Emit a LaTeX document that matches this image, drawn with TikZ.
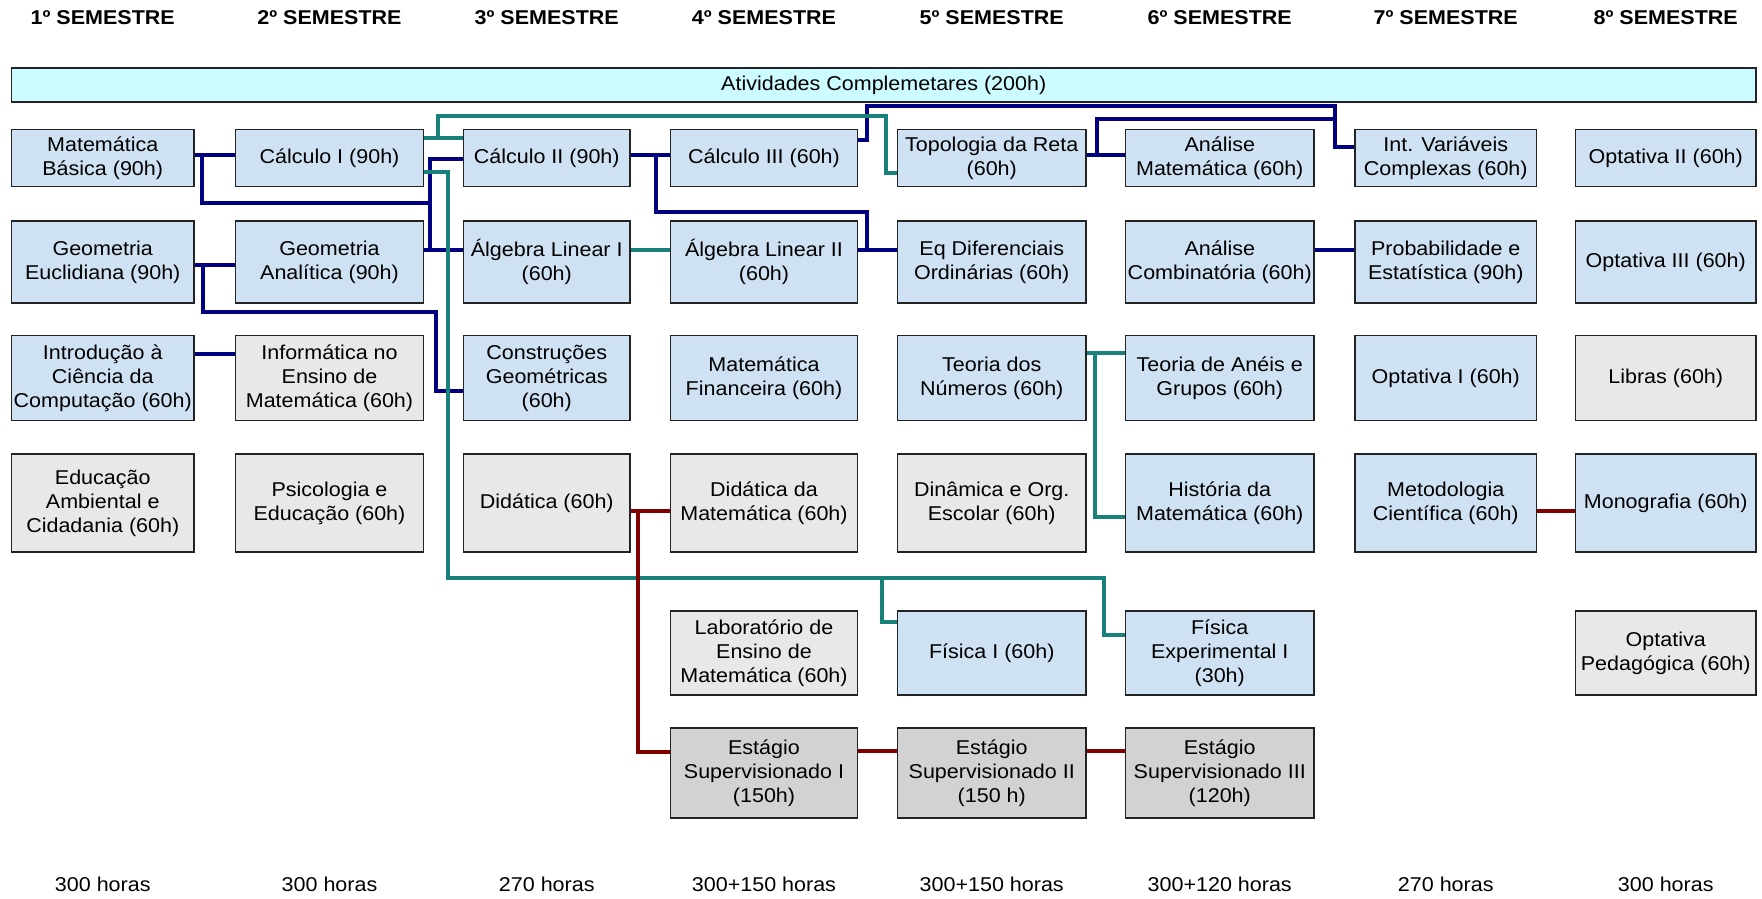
\documentclass[tikz,border=0pt]{standalone}
\usepackage{fontspec}
\setmainfont{Liberation Sans}[FakeStretch=1.075]
\definecolor{bluef}{RGB}{207,226,243}
\definecolor{grayf}{RGB}{232,232,232}
\definecolor{estf}{RGB}{210,210,210}
\definecolor{ativf}{RGB}{204,252,255}
\definecolor{boxline}{RGB}{35,35,35}
\definecolor{navyc}{RGB}{0,0,128}
\definecolor{tealc}{RGB}{26,128,124}
\definecolor{redc}{RGB}{128,0,0}
\newcommand\bxfont{\fontsize{10}{12}\selectfont}
\newcommand\hdfont{\fontsize{10}{12}\selectfont\bfseries}
\begin{document}
\begin{tikzpicture}[x=0.5pt,y=-0.5pt,
  box/.style={draw=boxline, line width=0.85pt, align=center, inner sep=0pt, font=\bxfont},
  bl/.style={box, fill=bluef},
  gr/.style={box, fill=grayf},
  es/.style={box, fill=estf},
  colA/.style={minimum width=91.25pt},
  colB/.style={minimum width=94pt},
  colC/.style={minimum width=83.25pt},
  colD/.style={minimum width=93.5pt},
  colE/.style={minimum width=94.25pt},
  colF/.style={minimum width=94.25pt},
  colG/.style={minimum width=90.75pt},
  colH/.style={minimum width=90.25pt},
  rowA/.style={minimum height=28.5pt},
  rowB/.style={minimum height=41pt},
  rowC/.style={minimum height=42.5pt},
  rowD/.style={minimum height=49pt},
  rowE/.style={minimum height=42pt},
  rowF/.style={minimum height=45pt},
  hd/.style={font=\hdfont, inner sep=0pt},
  ft/.style={font=\bxfont, inner sep=0pt},
  nv/.style={draw=navyc, line width=2.2pt},
  tl/.style={draw=tealc, line width=2.2pt},
  rd/.style={draw=redc, line width=2.2pt}]
\useasboundingbox (0,0) rectangle (1762,899);
\fill[white] (0,0) rectangle (1762,899);

% headers
\node[hd] (h1) at (102.75,18) {1º SEMESTRE};
\node[hd] (h2) at (329.5,18) {2º SEMESTRE};
\node[hd] (h3) at (546.75,18) {3º SEMESTRE};
\node[hd] (h4) at (764,18) {4º SEMESTRE};
\node[hd] (h5) at (991.75,18) {5º SEMESTRE};
\node[hd] (h6) at (1219.75,18) {6º SEMESTRE};
\node[hd] (h7) at (1445.75,18) {7º SEMESTRE};
\node[hd] (h8) at (1665.75,18) {8º SEMESTRE};

% atividades
\node[box, fill=ativf, minimum width=872.25pt, minimum height=17pt] (ativ) at (883.75,85) {Atividades Complemetares (200h)};

% row 1
\node[bl,colA,rowA] (matbas) at (102.75,158) {Matemática\\Básica (90h)};
\node[bl,colB,rowA] (calc1) at (329.5,158) {Cálculo I (90h)};
\node[bl,colC,rowA] (calc2) at (546.75,158) {Cálculo II (90h)};
\node[bl,colD,rowA] (calc3) at (764,158) {Cálculo III (60h)};
\node[bl,colE,rowA] (topo) at (991.75,158) {Topologia da Reta\\(60h)};
\node[bl,colF,rowA] (anmat) at (1219.75,158) {Análise\\Matemática (60h)};
\node[bl,colG,rowA] (intvar) at (1445.75,158) {Int. Variáveis\\Complexas (60h)};
\node[bl,colH,rowA] (opt2) at (1665.75,158) {Optativa II (60h)};

% row 2
\node[bl,colA,rowB] (geoeu) at (102.75,262) {Geometria\\Euclidiana (90h)};
\node[bl,colB,rowB] (geoan) at (329.5,262) {Geometria\\Analítica (90h)};
\node[bl,colC,rowB] (alg1) at (546.75,262) {Álgebra Linear I\\(60h)};
\node[bl,colD,rowB] (alg2) at (764,262) {Álgebra Linear II\\(60h)};
\node[bl,colE,rowB] (eqdif) at (991.75,262) {Eq Diferenciais\\Ordinárias (60h)};
\node[bl,colF,rowB] (ancomb) at (1219.75,262) {Análise\\Combinatória (60h)};
\node[bl,colG,rowB] (prob) at (1445.75,262) {Probabilidade e\\Estatística (90h)};
\node[bl,colH,rowB] (opt3) at (1665.75,262) {Optativa III (60h)};

% row 3
\node[bl,colA,rowC] (intro) at (102.75,378) {Introdução à\\Ciência da\\Computação (60h)};
\node[gr,colB,rowC] (inform) at (329.5,378) {Informática no\\Ensino de\\Matemática (60h)};
\node[bl,colC,rowC] (constr) at (546.75,378) {Construções\\Geométricas\\(60h)};
\node[bl,colD,rowC] (matfin) at (764,378) {Matemática\\Financeira (60h)};
\node[bl,colE,rowC] (teonum) at (991.75,378) {Teoria dos\\Números (60h)};
\node[bl,colF,rowC] (aneis) at (1219.75,378) {Teoria de Anéis e\\Grupos (60h)};
\node[bl,colG,rowC] (opt1) at (1445.75,378) {Optativa I (60h)};
\node[gr,colH,rowC] (libras) at (1665.75,378) {Libras (60h)};

% row 4
\node[gr,colA,rowD] (educ) at (102.75,503) {Educação\\Ambiental e\\Cidadania (60h)};
\node[gr,colB,rowD] (psico) at (329.5,503) {Psicologia e\\Educação (60h)};
\node[gr,colC,rowD] (didat) at (546.75,503) {Didática (60h)};
\node[gr,colD,rowD] (didmat) at (764,503) {Didática da\\Matemática (60h)};
\node[gr,colE,rowD] (dinam) at (991.75,503) {Dinâmica e Org.\\Escolar (60h)};
\node[bl,colF,rowD] (hist) at (1219.75,503) {História da\\Matemática (60h)};
\node[bl,colG,rowD] (metod) at (1445.75,503) {Metodologia\\Científica (60h)};
\node[bl,colH,rowD] (mono) at (1665.75,503) {Monografia (60h)};

% row 5
\node[gr,colD,rowE] (lab) at (764,653) {Laboratório de\\Ensino de\\Matemática (60h)};
\node[bl,colE,rowE] (fis1) at (991.75,653) {Física I (60h)};
\node[bl,colF,rowE] (fisexp) at (1219.75,653) {Física\\Experimental I\\(30h)};
\node[gr,colH,rowE] (optped) at (1665.75,653) {Optativa\\Pedagógica (60h)};

% row 6
\node[es,colD,rowF] (est1) at (764,773) {Estágio\\Supervisionado I\\(150h)};
\node[es,colE,rowF] (est2) at (991.75,773) {Estágio\\Supervisionado II\\(150 h)};
\node[es,colF,rowF] (est3) at (1219.75,773) {Estágio\\Supervisionado III\\(120h)};

% totals
\node[ft] (t1) at (102.75,884) {300 horas};
\node[ft] (t2) at (329.5,884) {300 horas};
\node[ft] (t3) at (546.75,884) {270 horas};
\node[ft] (t4) at (764,884) {300+150 horas};
\node[ft] (t5) at (991.75,884) {300+150 horas};
\node[ft] (t6) at (1219.75,884) {300+120 horas};
\node[ft] (t7) at (1445.75,884) {270 horas};
\node[ft] (t8) at (1665.75,884) {300 horas};

% navy connectors
\draw[nv] (matbas.east |- 0,155) -- (calc1.west |- 0,155);
\draw[nv] (matbas.east |- 0,155) -| (202,203) -- (430,203);
\draw[nv] (calc2.west |- 0,159) -| (430,250) -- (alg1.west |- 0,250);
\draw[nv] (geoan.east |- 0,250) -- (alg1.west |- 0,250);
\draw[nv] (geoeu.east |- 0,265) -- (geoan.west |- 0,265);
\draw[nv] (geoeu.east |- 0,265) -| (203,312) -| (436,391) -- (constr.west |- 0,391);
\draw[nv] (intro.east |- 0,354) -- (inform.west |- 0,354);
\draw[nv] (calc2.east |- 0,155) -- (calc3.west |- 0,155);
\draw[nv] (656,155) |- (867,212) |- (eqdif.west |- 0,250);
\draw[nv] (alg2.east |- 0,250) -- (eqdif.west |- 0,250);
\draw[nv] (calc3.east |- 0,140) -| (867,106) -| (1335,147) -- (intvar.west |- 0,147);
\draw[nv] (topo.east |- 0,155) -- (anmat.west |- 0,155);
\draw[nv] (1097,155) |- (1335,119);
\draw[nv] (ancomb.east |- 0,250) -- (prob.west |- 0,250);

% teal connectors
\draw[tl] (calc1.east |- 0,138) -- (calc2.west |- 0,138);
\draw[tl] (438,138) |- (886,116) |- (topo.west |- 0,173);
\draw[tl] (calc1.east |- 0,172) -| (448,578) -| (882,622) -- (fis1.west |- 0,622);
\draw[tl] (882,578) -| (1104,635) -- (fisexp.west |- 0,635);
\draw[tl] (alg1.east |- 0,250) -- (alg2.west |- 0,250);
\draw[tl] (teonum.east |- 0,353) -- (aneis.west |- 0,353);
\draw[tl] (1095,353) |- (hist.west |- 0,517);

% red connectors
\draw[rd] (didat.east |- 0,511) -- (didmat.west |- 0,511);
\draw[rd] (638,511) |- (est1.west |- 0,752);
\draw[rd] (est1.east |- 0,751) -- (est2.west |- 0,751);
\draw[rd] (est2.east |- 0,751) -- (est3.west |- 0,751);
\draw[rd] (metod.east |- 0,511) -- (mono.west |- 0,511);
\end{tikzpicture}
\end{document}
